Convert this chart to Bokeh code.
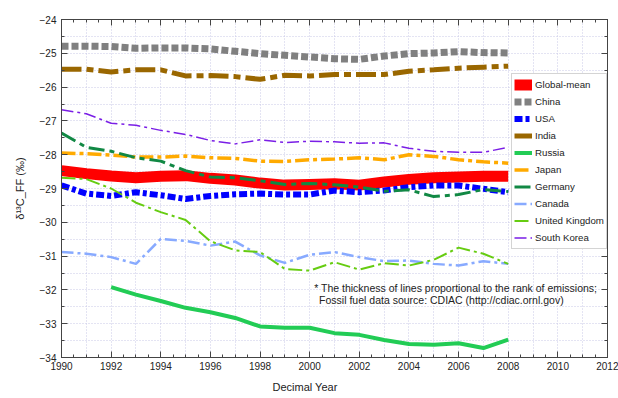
from bokeh.plotting import figure
from bokeh.models import (LinearAxis, SingleIntervalTicker, Range1d, Legend,
                          LegendItem, Grid, Label, CustomJSTickFormatter, Title)
from bokeh.embed import file_html
from bokeh.resources import INLINE

years = list(range(1990, 2009))
russia_years = list(range(1992, 2009))

global_mean = [-28.47, -28.56, -28.63, -28.68, -28.64, -28.62, -28.70, -28.75, -28.84, -28.90,
               -28.88, -28.86, -28.90, -28.81, -28.73, -28.68, -28.66, -28.64, -28.64]
china = [-24.79, -24.79, -24.80, -24.85, -24.84, -24.84, -24.87, -24.94, -25.01, -25.06,
         -25.11, -25.16, -25.18, -25.08, -25.01, -24.99, -24.95, -24.98, -24.99]
usa = [-28.91, -29.15, -29.22, -29.11, -29.20, -29.31, -29.22, -29.17, -29.15, -29.18,
       -29.18, -29.06, -29.11, -29.06, -28.96, -28.91, -28.91, -29.01, -29.11]
india = [-25.47, -25.47, -25.55, -25.49, -25.49, -25.67, -25.66, -25.69, -25.77, -25.65,
         -25.67, -25.63, -25.63, -25.63, -25.53, -25.49, -25.44, -25.41, -25.38]
russia = [-31.92, -32.14, -32.33, -32.53, -32.66, -32.83, -33.08, -33.12, -33.12, -33.28,
          -33.33, -33.48, -33.60, -33.62, -33.58, -33.72, -33.47]
japan = [-27.95, -27.97, -28.01, -28.07, -28.07, -28.04, -28.09, -28.11, -28.19, -28.20,
         -28.15, -28.13, -28.09, -28.15, -28.00, -28.05, -28.15, -28.21, -28.25]
germany = [-27.36, -27.78, -27.90, -28.09, -28.19, -28.47, -28.66, -28.68, -28.77, -28.88,
           -28.85, -28.89, -28.96, -29.08, -29.04, -29.24, -29.18, -29.03, -29.09]
canada = [-30.88, -30.93, -31.03, -31.23, -30.49, -30.55, -30.69, -30.57, -30.98, -31.20,
          -30.96, -30.88, -31.03, -31.15, -31.13, -31.23, -31.28, -31.15, -31.23]
uk = [-28.68, -28.72, -29.00, -29.42, -29.70, -29.93, -30.56, -30.83, -30.88, -31.38,
      -31.43, -31.18, -31.40, -31.21, -31.28, -31.11, -30.75, -30.93, -31.23]
south_korea = [-26.67, -26.79, -27.07, -27.13, -27.28, -27.40, -27.58, -27.68, -27.56, -27.64,
               -27.60, -27.62, -27.66, -27.65, -27.81, -27.90, -27.93, -27.93, -27.78]

series = [
    ("Global-mean", years, global_mean, "#ff0000", 11, "solid"),
    ("China", years, china, "#808080", 7, "7 3"),
    ("USA", years, usa, "#0000ff", 6, "8 3 4 3"),
    ("India", years, india, "#9a6700", 5, "20 5 7 5"),
    ("Russia", russia_years, russia, "#22cc55", 4, "solid"),
    ("Japan", years, japan, "#ffaa00", 3.5, "14 4 4 4"),
    ("Germany", years, germany, "#118844", 3, "16 5 5 5"),
    ("Canada", years, canada, "#88aaff", 2.5, "12 4 3 4"),
    ("United Kingdom", years, uk, "#66cc11", 2, "14 4 3 4"),
    ("South Korea", years, south_korea, "#7a1ee6", 1.5, "12 4 3 4"),
]

FONT = "Liberation Sans"

p = figure(width=618, height=398, output_backend="svg", toolbar_location=None,
           x_range=Range1d(1990, 2012), y_range=Range1d(-34, -24),
           min_border_left=61, min_border_right=11, min_border_top=19, min_border_bottom=41,
           x_axis_location=None, y_axis_location=None)
p.outline_line_color = "#444444"
p.background_fill_color = "white"
p.border_fill_color = "white"
p.grid.visible = False

p.add_layout(Grid(dimension=0, ticker=SingleIntervalTicker(interval=1),
                  grid_line_color="#c8c8e6", grid_line_dash="1 2", grid_line_width=1))
p.add_layout(Grid(dimension=1, ticker=SingleIntervalTicker(interval=0.5),
                  grid_line_color="#c8c8e6", grid_line_dash="1 2", grid_line_width=1))

def make_axis(ticker, show_labels):
    ax = LinearAxis(ticker=ticker)
    ax.major_tick_in = 6
    ax.major_tick_out = 0
    ax.minor_tick_in = 3
    ax.minor_tick_out = 0
    ax.axis_line_color = "#444444"
    ax.major_tick_line_color = "#444444"
    ax.minor_tick_line_color = "#444444"
    ax.major_label_text_font = FONT
    ax.major_label_text_font_size = "10px"
    ax.major_label_text_color = "#222222"
    ax.axis_label_text_font = FONT
    ax.axis_label_text_font_style = "normal"
    ax.axis_label_text_color = "#222222"
    if not show_labels:
        ax.formatter = CustomJSTickFormatter(code="return ''")
        ax.major_label_standoff = 0
    return ax

xb = make_axis(SingleIntervalTicker(interval=2, num_minor_ticks=4), True)
xb.major_label_standoff = 4
p.add_layout(xb, "below")

xtitle = Title(text="Decimal Year", align="left", offset=211, text_font=FONT,
               text_font_size="11px", text_font_style="normal", text_color="#222222",
               standoff=12)
p.add_layout(xtitle, "below")

xt = make_axis(SingleIntervalTicker(interval=2, num_minor_ticks=4), False)
p.add_layout(xt, "above")

yl = make_axis(SingleIntervalTicker(interval=1, num_minor_ticks=2), True)
yl.axis_label = "δ¹³C_FF (‰)"
yl.axis_label_text_font_size = "11px"
yl.major_label_standoff = 5
yl.axis_label_standoff = 11
p.add_layout(yl, "left")

yr = make_axis(SingleIntervalTicker(interval=1, num_minor_ticks=2), False)
p.add_layout(yr, "right")

items = []
for name, xs, ys, color, width, dash in series:
    r = p.line(xs, ys, line_color=color, line_width=width, line_dash=dash)
    items.append(LegendItem(label=name, renderers=[r]))

legend = Legend(items=items, location=(450, 108))
legend.padding = 2
legend.spacing = 0
legend.margin = 0
legend.glyph_width = 18
legend.glyph_height = 17
legend.label_height = 17
legend.label_standoff = 3
legend.label_text_font = FONT
legend.label_text_font_size = "9.7px"
legend.label_text_color = "#222222"
legend.border_line_color = "#aaaaaa"
legend.background_fill_color = "white"
legend.background_fill_alpha = 1.0
p.add_layout(legend, "center")

note1 = Label(x=2000.18, y=-31.93, text="* The thickness of lines proportional to the rank of emissions;",
              text_font=FONT, text_font_size="10.5px", text_color="#222222", text_baseline="middle")
note2 = Label(x=2000.38, y=-32.31, text="Fossil fuel data source: CDIAC (http://cdiac.ornl.gov)",
              text_font=FONT, text_font_size="10.5px", text_color="#222222", text_baseline="middle")
p.add_layout(note1)
p.add_layout(note2)

open("out.html", "w").write(file_html(p, INLINE))
